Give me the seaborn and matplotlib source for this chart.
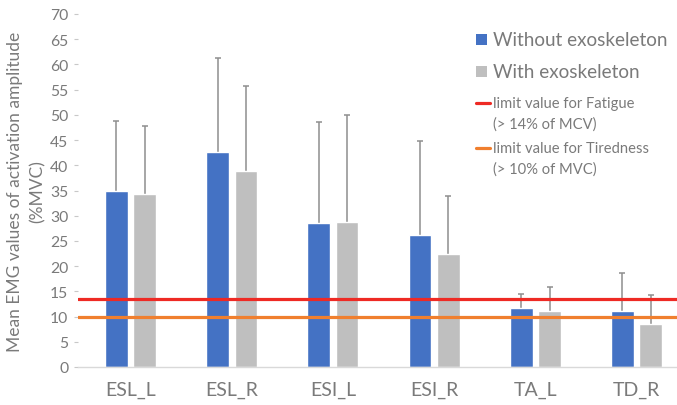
import numpy as np
import pandas as pd
import matplotlib
matplotlib.use("Agg")
import matplotlib.pyplot as plt
import seaborn as sns
from matplotlib.patches import Rectangle
from matplotlib.lines import Line2D

categories = ["ESL_L", "ESL_R", "ESI_L", "ESI_R", "TA_L", "TD_R"]
without_exo = [35.0, 42.6, 28.5, 26.1, 11.7, 11.1]
with_exo = [34.3, 38.9, 28.7, 22.5, 11.1, 8.6]
without_sd = [13.8, 18.7, 20.1, 18.8, 2.7, 7.5]
with_sd = [13.4, 16.8, 21.3, 11.4, 4.8, 5.6]
fatigue_limit = 13.5
tiredness_limit = 10.0
series_names = ["Without exoskeleton", "With exoskeleton"]
limit_labels = ["limit value for Fatigue\n(> 14% of MCV)",
                "limit value for Tiredness\n(> 10% of MVC)"]

df = pd.DataFrame({
    "muscle": categories * 2,
    "value": without_exo + with_exo,
    "group": [series_names[0]] * len(categories) + [series_names[1]] * len(categories),
})

sns.set_style("white")
plt.rcParams["font.family"] = ["Lato", "DejaVu Sans"]

BLUE = "#4472C4"
GRAY = "#BFBFBF"
RED = "#EE2A24"
ORANGE = "#F07F2E"
TXT = "#7A7A7A"
W, H = 677, 406

fig = plt.figure(figsize=(6.77, 4.06), dpi=100)
ax = fig.add_axes([78 / W, 38 / H, 1 - 78 / W, (368 - 15) / H])

sns.barplot(data=df, x="muscle", y="value", hue="group", order=categories,
            hue_order=series_names, palette=[BLUE, GRAY], width=0.56, gap=0.2,
            errorbar=None, ax=ax, legend=False, saturation=1, zorder=2)

# error bars (upper only)
for container, sds in zip(ax.containers, [without_sd, with_sd]):
    xs = np.array([p.get_x() + p.get_width() / 2 for p in container.patches])
    hs = np.array([p.get_height() for p in container.patches])
    _, caps, _ = ax.errorbar(xs, hs, yerr=[np.zeros(len(sds)), sds], fmt="none",
                             ecolor="#8E8E8E", elinewidth=1.1, capsize=2.5,
                             capthick=1.1, zorder=1)
    caps[0].set_visible(False)

ax.axhline(fatigue_limit, color=RED, lw=2.3, zorder=3)
ax.axhline(tiredness_limit, color=ORANGE, lw=2.3, zorder=3)

ax.set_ylim(0, 70)
ax.set_xlim(-0.52, 5.4)
ax.set_yticks(np.arange(0, 71, 5))
ax.tick_params(axis="y", labelsize=11.3, labelcolor=TXT, length=3, width=0.8,
               color="#C8C8C8", left=True, pad=4)
ax.tick_params(axis="x", labelsize=14, labelcolor=TXT, length=0, pad=10)
ax.set_xlabel("")
ax.set_ylabel("Mean EMG values of activation amplitude\n(%MVC)", fontsize=12.5,
              color=TXT, labelpad=3, linespacing=1.5)
for s in ["top", "right", "left"]:
    ax.spines[s].set_visible(False)
ax.spines["bottom"].set_color("#D9D9D9")
ax.spines["bottom"].set_linewidth(1.0)

# legend drawn manually in figure pixel coordinates
def fy(py):
    return 1 - py / H

for color, name, py in zip([BLUE, GRAY], series_names, [40, 72]):
    fig.patches.append(Rectangle((476 / W, fy(py + 5.5)), 11 / W, 11 / H,
                                 transform=fig.transFigure, facecolor=color,
                                 edgecolor="none"))
    fig.text(493 / W, fy(py), name, fontsize=13.6, color=TXT, va="center", ha="left")

for color, lab, py in zip([RED, ORANGE], limit_labels, [104, 149]):
    fig.lines.append(Line2D([476 / W, 490 / W], [fy(py), fy(py)],
                            transform=fig.transFigure, color=color, lw=2.3))
    l1, l2 = lab.split("\n")
    fig.text(493 / W, fy(py), l1, fontsize=10.6, color=TXT, va="center", ha="left")
    fig.text(493 / W, fy(py + 21), l2, fontsize=10.6, color=TXT, va="center", ha="left")

fig.savefig("out.png", dpi=100)
